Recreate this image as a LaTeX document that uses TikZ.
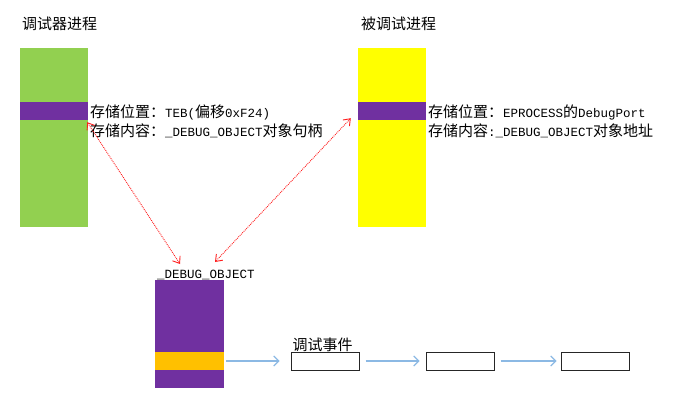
\documentclass[tikz,border=0pt]{standalone}
\usepackage{fontspec}
\setmainfont{Noto Sans CJK SC}
\newfontfamily\latfont{Liberation Mono}[Scale=0.8333]
\newcommand{\en}[1]{{\latfont #1}}
\usetikzlibrary{arrows.meta, positioning}
\usepackage{xcolor}
\definecolor{procgreen}{RGB}{146, 208, 80}
\definecolor{procyellow}{RGB}{255, 255, 0}
\definecolor{slotpurple}{RGB}{112, 48, 160}
\definecolor{listorange}{RGB}{255, 192, 0}
\definecolor{linkblue}{RGB}{140, 185, 228}
\definecolor{refred}{RGB}{255, 30, 30}

\begin{document}
\begin{tikzpicture}[
    x=1pt, y=-1pt,
    every node/.style={inner sep=0pt, font=\fontsize{15pt}{19pt}\selectfont},
    bar/.style={rectangle, draw=none, minimum width=68pt, minimum height=179pt},
    slot/.style={rectangle, draw=none, fill=slotpurple, minimum width=68pt, minimum height=18pt},
    eventbox/.style={rectangle, draw=black!85, line width=1pt, fill=white, minimum width=68pt, minimum height=18pt},
    info/.style={align=left, anchor=west},
    link/.style={-{Straight Barb[length=5pt, width=10pt]}, color=linkblue, line width=1.1pt},
    ref/.style={{Straight Barb[length=6pt, width=9pt]}-{Straight Barb[length=6pt, width=9pt]}, color=refred, densely dotted, line width=0.9pt}
]
\useasboundingbox (0,0) rectangle (680,406);

% Debugger process
\node[anchor=west] (dbgtitle) at (22,24) {调试器进程};
\node[bar, fill=procgreen] (debugger) at (54,137.5) {};
\node[slot] (tebslot) at (54,111) {};
\node[info] (tebinfo) at (90,121) {存储位置：\en{TEB(}偏移\en{0xF24)}\\存储内容：\en{\_DEBUG\_OBJECT}对象句柄};

% Debuggee process
\node[anchor=west] (deetitle) at (361,24) {被调试进程};
\node[bar, fill=procyellow] (debuggee) at (392,137.5) {};
\node[slot] (portslot) at (392,111) {};
\node[info] (portinfo) at (428,121) {存储位置：\en{EPROCESS}的\en{DebugPort}\\存储内容\en{:\_DEBUG\_OBJECT}对象地址};

% Debug object
\node[rectangle, fill=slotpurple, minimum width=69pt, minimum height=108pt] (dbgobj) at (189.5,334) {};
\node[rectangle, fill=listorange, minimum width=69pt, minimum height=18pt] (evlist) at (189.5,361) {};
\node[anchor=south west] (dbglabel) at (157,280) {\en{\_DEBUG\_OBJECT}};

% Event chain
\node[eventbox] (ev1) at (325,361) {};
\node[eventbox] (ev2) at (460,361) {};
\node[eventbox] (ev3) at (595,361) {};
\node[anchor=south west] (evlabel) at ([xshift=2pt]ev1.north west) {调试事件};

% Arrows
\draw[link, shorten <=2pt, shorten >=11pt] (evlist.east) -- (ev1.west);
\draw[link, shorten <=6pt, shorten >=6pt] (ev1.east) -- (ev2.west);
\draw[link, shorten <=6pt, shorten >=4pt] (ev2.east) -- (ev3.west);

% References to the debug object
\coordinate (objin1) at (180,264);
\coordinate (objin2) at (215,262);
\draw[ref] ([shift={(-1pt,-2pt)}]tebslot.south east) -- (objin1);
\draw[ref] ([shift={(-7pt,2pt)}]portslot.south west) -- (objin2);

\end{tikzpicture}
\end{document}
